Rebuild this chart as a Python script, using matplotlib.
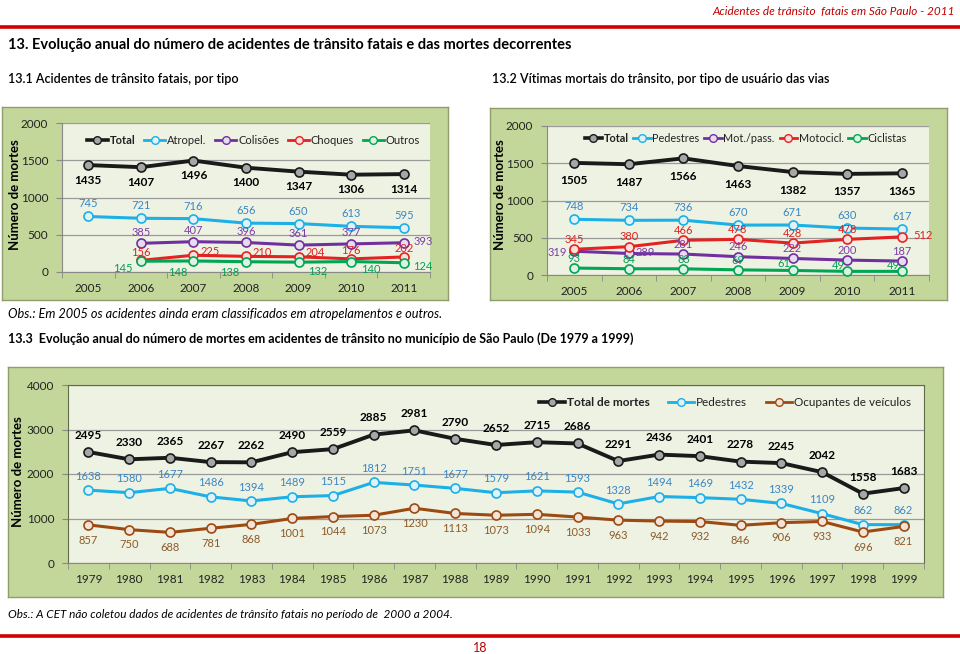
import matplotlib
matplotlib.use("Agg")
import matplotlib.pyplot as plt
from matplotlib.lines import Line2D

plt.rcParams['font.family'] = ['Lato', 'DejaVu Sans']

# ---- data ----
anos_a = ["2005", "2006", "2007", "2008", "2009", "2010", "2011"]
acid_total = [1435, 1407, 1496, 1400, 1347, 1306, 1314]
acid_atropel = [745, 721, 716, 656, 650, 613, 595]
acid_colisoes = [None, 385, 407, 396, 361, 377, 393]
acid_choques = [None, 156, 225, 210, 204, 176, 202]
acid_outros = [None, 145, 148, 138, 132, 140, 124]

vit_total = [1505, 1487, 1566, 1463, 1382, 1357, 1365]
vit_pedestres = [748, 734, 736, 670, 671, 630, 617]
vit_motpass = [319, 289, 281, 246, 222, 200, 187]
vit_motocicl = [345, 380, 466, 478, 428, 478, 512]
vit_ciclistas = [93, 84, 83, 69, 61, 49, 49]

anos_b = [str(a) for a in range(1979, 2000)]
hist_total = [2495, 2330, 2365, 2267, 2262, 2490, 2559, 2885, 2981, 2790, 2652,
              2715, 2686, 2291, 2436, 2401, 2278, 2245, 2042, 1558, 1683]
hist_pedestres = [1638, 1580, 1677, 1486, 1394, 1489, 1515, 1812, 1751, 1677, 1579,
                  1621, 1593, 1328, 1494, 1469, 1432, 1339, 1109, 862, 862]
hist_ocupantes = [857, 750, 688, 781, 868, 1001, 1044, 1073, 1230, 1113, 1073,
                  1094, 1033, 963, 942, 932, 846, 906, 933, 696, 821]

# ---- styles ----
W, H = 960, 654
PANEL = "#c4d79b"
PLOTBG = "#eef2e3"
C_BLACK = ("#1a1a1a", "#a6a6a6", "#000000")
C_BLUE = ("#1cb0e6", "#dff2fa", "#3a86c4")
C_PURPLE = ("#7030a0", "#e6dcf0", "#7a3fa6")
C_RED = ("#e52222", "#fbdede", "#e02020")
C_GREEN = ("#00a651", "#dcf2e4", "#00a050")
C_BROWN = ("#9c4a12", "#f2e4d8", "#8c5a2b")

fig = plt.figure(figsize=(W / 100, H / 100), dpi=100)


def rect(x0, y0, x1, y1):
    return [x0 / W, 1 - y1 / H, (x1 - x0) / W, (y1 - y0) / H]


def px(x, y):
    return x / W, 1 - y / H


def panel(x0, y0, x1, y1):
    bg = fig.add_axes(rect(x0, y0, x1, y1), zorder=0)
    bg.set_facecolor(PANEL)
    bg.set_xticks([])
    bg.set_yticks([])
    for s in bg.spines.values():
        s.set_color("#8f9e6a")
        s.set_linewidth(1)
    return bg


def plot_area(box, ymax, ystep, cats, ylabel_pos):
    ax = fig.add_axes(rect(*box), zorder=2)
    ax.set_facecolor(PLOTBG)
    ax.set_xlim(-0.5, len(cats) - 0.5)
    ax.set_ylim(0, ymax)
    ax.set_yticks(range(0, ymax + 1, ystep))
    ax.yaxis.grid(True, color="#9a9a9a", lw=0.9)
    ax.set_axisbelow(True)
    ax.set_xticks(range(len(cats)))
    ax.set_xticklabels(cats)
    ax.set_xticks([i + 0.5 for i in range(-1, len(cats))], minor=True)
    ax.tick_params(axis="x", which="major", length=0, pad=8, labelsize=8.5, colors="#222222")
    ax.tick_params(axis="x", which="minor", length=4, color="#888888")
    ax.tick_params(axis="y", length=4, color="#888888", pad=6, labelsize=8.5, colors="#222222")
    for k in ("top", "right"):
        ax.spines[k].set_visible(False)
    ax.spines["left"].set_color("#888888")
    ax.spines["bottom"].set_color("#888888")
    fig.text(*px(*ylabel_pos), "Número de mortes", rotation=90, ha="center", va="center",
             fontsize=9.5, fontweight="bold", zorder=5)
    return ax


def series(ax, vals, col, lw=2.2, ms=6.5):
    xs = [i for i, v in enumerate(vals) if v is not None]
    ys = [v for v in vals if v is not None]
    ax.plot(xs, ys, color=col[0], lw=lw, marker="o", ms=ms,
            mfc=col[1], mec=col[0], mew=1.2, zorder=3, clip_on=False)


def labels(ax, vals, col, dy, dx=0, bold=False, size=8, adj=None):
    adj = adj or {}
    for i, v in enumerate(vals):
        if v is None:
            continue
        ox, oy = adj.get(i, (dx, dy))
        ax.annotate(str(v), (i, v), xytext=(ox, oy), textcoords="offset points",
                    ha="center", va="center", fontsize=size, color=col[2],
                    fontweight="bold" if bold else "normal", zorder=4)


def legend(ax, names, cols, loc, anchor, size=8, hl=1.9, cs=0.8):
    hs = [Line2D([0], [0], color=c[0], lw=2.6 if c is C_BLACK else 2.0, marker="o", ms=5.5,
                 mfc=c[1], mec=c[0]) for c in cols]
    lg = ax.legend(hs, names, loc=loc, bbox_to_anchor=anchor, ncol=len(names),
                   frameon=False, fontsize=size, handlelength=hl, handletextpad=0.15,
                   columnspacing=cs, borderaxespad=0)
    lg.get_texts()[0].set_fontweight("bold")
    for t in lg.get_texts():
        t.set_color("#222222")
    return lg


# ---- page texts ----
fig.text(*px(955, 11), "Acidentes de trânsito  fatais em São Paulo - 2011",
         ha="right", va="center", color="#c00000", fontsize=8.5, style="italic")
fig.add_artist(Line2D([0, 1], [1 - 27 / H] * 2, color="#d40000", lw=2.6))
fig.text(*px(8, 45),
         "13. Evolução anual do número de acidentes de trânsito fatais e das mortes decorrentes",
         ha="left", va="center", fontsize=10.5, fontweight="bold")
fig.text(*px(8, 79), "13.1 Acidentes de trânsito fatais, por tipo",
         ha="left", va="center", fontsize=9, fontweight="semibold")
fig.text(*px(492, 79), "13.2 Vítimas mortais do trânsito, por tipo de usuário das vias",
         ha="left", va="center", fontsize=9, fontweight="semibold")
fig.text(*px(8, 314),
         "Obs.: Em 2005 os acidentes ainda eram classificados em atropelamentos e outros.",
         ha="left", va="center", fontsize=9.2, style="italic")
fig.text(*px(8, 339),
         "13.3  Evolução anual do número de mortes em acidentes de trânsito no município de São Paulo (De 1979 a 1999)",
         ha="left", va="center", fontsize=9, fontweight="bold")
fig.text(*px(8, 615),
         "Obs.: A CET não coletou dados de acidentes de trânsito fatais no período de  2000 a 2004.",
         ha="left", va="center", fontsize=8.5, style="italic")
fig.add_artist(Line2D([0, 1], [1 - 636 / H] * 2, color="#d40000", lw=2.6))
fig.text(*px(480, 648), "18", ha="center", va="center", color="#c00000", fontsize=9)

# ---- chart 13.1 ----
panel(2, 107, 448, 300)
ax1 = plot_area((62, 123, 430, 272), 2000, 500, anos_a, (15, 195))
series(ax1, acid_total, C_BLACK, lw=2.8)
series(ax1, acid_atropel, C_BLUE)
series(ax1, acid_colisoes, C_PURPLE)
series(ax1, acid_choques, C_RED)
series(ax1, acid_outros, C_GREEN)
labels(ax1, acid_total, C_BLACK, -11, bold=True, size=8.5)
labels(ax1, acid_atropel, C_BLUE, 9)
labels(ax1, acid_colisoes, C_PURPLE, 8, adj={6: (14, 1)})
labels(ax1, acid_choques, C_RED, 6, adj={2: (12, 3), 3: (12, 3), 4: (12, 3)})
labels(ax1, acid_outros, C_GREEN, -7, adj={1: (-13, -5), 2: (-11, -8), 3: (-12, -8),
                                            4: (14, -7), 5: (14, -6), 6: (14, -3)})
legend(ax1, ["Total", "Atropel.", "Colisões", "Choques", "Outros"],
       [C_BLACK, C_BLUE, C_PURPLE, C_RED, C_GREEN], "upper center", (0.52, 0.95))

# ---- chart 13.2 ----
panel(490, 108, 947, 300)
ax2 = plot_area((547, 126, 929, 275), 2000, 500, anos_a, (500, 195))
series(ax2, vit_total, C_BLACK, lw=2.8)
series(ax2, vit_pedestres, C_BLUE)
series(ax2, vit_motpass, C_PURPLE)
series(ax2, vit_motocicl, C_RED)
series(ax2, vit_ciclistas, C_GREEN)
labels(ax2, vit_total, C_BLACK, -13, bold=True, size=8.5)
labels(ax2, vit_pedestres, C_BLUE, 9)
labels(ax2, vit_motpass, C_PURPLE, 7, adj={0: (-12, -1), 1: (12, 1)})
labels(ax2, vit_motocicl, C_RED, 7, adj={6: (15, 1)})
labels(ax2, vit_ciclistas, C_GREEN, 7, adj={4: (-6, 5), 5: (-6, 4), 6: (-6, 4)})
legend(ax2, ["Total", "Pedestres", "Mot./pass.", "Motocicl.", "Ciclistas"],
       [C_BLACK, C_BLUE, C_PURPLE, C_RED, C_GREEN], "upper center", (0.52, 0.985),
       size=7.8, hl=1.6, cs=0.45)

# ---- chart 13.3 ----
panel(8, 367, 943, 597)
ax3 = plot_area((68, 385, 924, 563), 4000, 1000, anos_b, (18, 472))
for s in ("left", "top", "right"):
    ax3.spines[s].set_visible(True)
    ax3.spines[s].set_color("#5e6a48")
series(ax3, hist_total, C_BLACK, lw=2.8)
series(ax3, hist_pedestres, C_BLUE)
series(ax3, hist_ocupantes, C_BROWN)
labels(ax3, hist_total, C_BLACK, 12, bold=True, size=8.5)
labels(ax3, hist_pedestres, C_BLUE, 10)
labels(ax3, hist_ocupantes, C_BROWN, -11)
legend(ax3, ["Total de mortes", "Pedestres", "Ocupantes de veículos"],
       [C_BLACK, C_BLUE, C_BROWN], "upper right", (0.99, 0.96), size=8.5, hl=2.2, cs=1.6)

fig.savefig("out.png", dpi=100)
